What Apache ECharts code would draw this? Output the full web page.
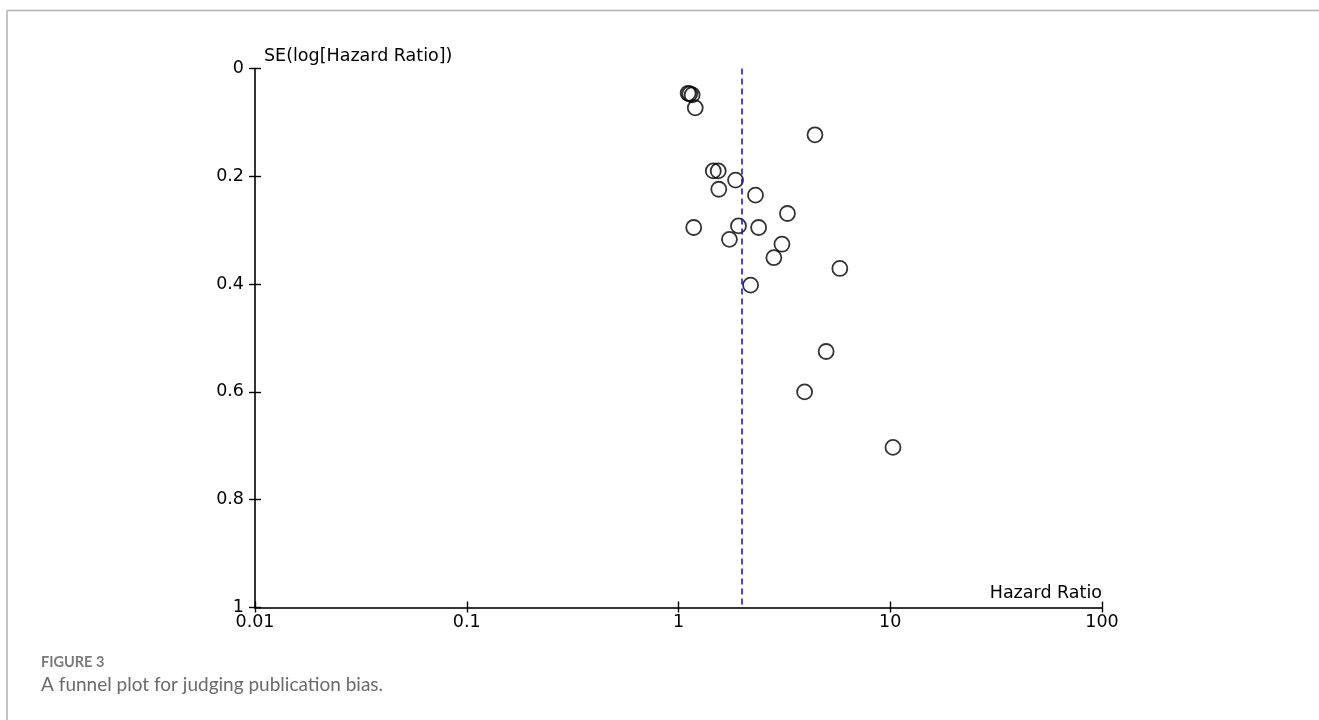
<!DOCTYPE html>
<html>
<head>
<meta charset="utf-8">
<style>
  html, body { margin: 0; padding: 0; background: #fff; }
  #chart { width: 1319px; height: 720px; }
</style>
<script src="https://cdn.jsdelivr.net/npm/echarts@6/dist/echarts.min.js"></script>
</head>
<body>
<div id="chart"></div>
<script>
// Study estimates
const hazardRatio = [1.11, 1.13, 1.16, 1.20, 4.41, 1.46, 1.54, 1.86, 1.55, 2.31, 3.27,
                     1.18, 1.92, 2.39, 1.74, 3.08, 2.82, 5.78, 2.19, 4.98, 3.94, 10.3];
const seLogHR     = [0.046, 0.047, 0.049, 0.073, 0.123, 0.190, 0.190, 0.207, 0.224, 0.235, 0.269,
                     0.295, 0.292, 0.295, 0.317, 0.326, 0.351, 0.371, 0.402, 0.525, 0.600, 0.703];
const pooledHR = 1.98;
const xAxisTitle = 'Hazard Ratio';
const yAxisTitle = 'SE(log[Hazard Ratio])';
const captionLabel = 'FIGURE 3';
const captionText = 'A funnel plot for judging publication bias.';

const points = hazardRatio.map((v, i) => [v, seLogHR[i]]);
const axisFont = 'DejaVu Sans';
const axisFontSize = 17.5;

const chart = echarts.init(document.getElementById('chart'), null, { renderer: 'canvas' });
chart.setOption({
  animation: false,
  backgroundColor: '#fff',
  title: {
    left: 41, top: 655,
    text: captionLabel,
    textStyle: { fontFamily: 'Lato', fontSize: 14.5, fontWeight: 'bold', color: '#7a7a7a' },
    subtext: captionText,
    subtextStyle: { fontFamily: 'Lato', fontSize: 19, color: '#6a6a6a' },
    itemGap: 5,
    padding: 0
  },
  graphic: [
    { type: 'line', silent: true, shape: { x1: 7, y1: 10.5, x2: 1319, y2: 10.5 }, style: { stroke: '#b0b0b0', lineWidth: 1.5 } },
    { type: 'line', silent: true, shape: { x1: 7, y1: 10.5, x2: 7, y2: 720 }, style: { stroke: '#b0b0b0', lineWidth: 1.5 } }
  ],
  grid: { left: 255, right: 217, top: 68.5, bottom: 112.5, containLabel: false },
  xAxis: [
    {
      type: 'log', logBase: 10, min: 0.01, max: 100, position: 'bottom',
      name: xAxisTitle, nameLocation: 'end', nameGap: 0,
      nameTextStyle: { fontFamily: axisFont, fontSize: axisFontSize, color: '#000', align: 'right', verticalAlign: 'bottom', padding: [0, 0, 5, 0] },
      axisLine: { show: true, onZero: false, lineStyle: { color: '#333', width: 2 } },
      axisTick: { show: true, inside: false, length: 5, lineStyle: { color: '#000', width: 1.4 } },
      minorTick: { show: false },
      splitLine: { show: false },
      axisLabel: { fontFamily: axisFont, fontSize: axisFontSize, color: '#000', margin: 6 }
    },
    {
      type: 'log', logBase: 10, min: 0.01, max: 100, position: 'bottom',
      axisLine: { show: false, onZero: false },
      axisTick: { show: true, inside: true, length: 6, lineStyle: { color: '#000', width: 1.4 } },
      splitLine: { show: false },
      axisLabel: { show: false }
    }
  ],
  yAxis: [
    {
      type: 'value', min: 0, max: 1, interval: 0.2, inverse: true, position: 'left',
      name: yAxisTitle, nameLocation: 'start', nameGap: 12,
      nameTextStyle: { fontFamily: axisFont, fontSize: axisFontSize, color: '#000', align: 'left', verticalAlign: 'middle', padding: [0, 0, 0, 9] },
      axisLine: { show: true, onZero: false, lineStyle: { color: '#000', width: 1.6 } },
      axisTick: { show: true, inside: false, length: 6, lineStyle: { color: '#000', width: 1.4 } },
      splitLine: { show: false },
      axisLabel: { fontFamily: axisFont, fontSize: axisFontSize, color: '#000', margin: 11 }
    },
    {
      type: 'value', min: 0, max: 1, interval: 0.2, inverse: true, position: 'left',
      axisLine: { show: false, onZero: false },
      axisTick: { show: true, inside: true, length: 6, lineStyle: { color: '#000', width: 1.4 } },
      splitLine: { show: false },
      axisLabel: { show: false }
    }
  ],
  series: [
    {
      type: 'scatter',
      xAxisIndex: 0, yAxisIndex: 0,
      data: points,
      symbol: 'circle',
      symbolSize: 15,
      itemStyle: { color: 'rgba(0,0,0,0)', borderColor: '#000', borderWidth: 1.8 },
      silent: true,
      markLine: {
        silent: true,
        symbol: ['none', 'none'],
        label: { show: false },
        lineStyle: { color: '#1f1fb0', width: 1.6, type: [6, 4] },
        data: [[{ coord: [pooledHR, 0] }, { coord: [pooledHR, 1] }]]
      }
    }
  ]
});
</script>
</body>
</html>
